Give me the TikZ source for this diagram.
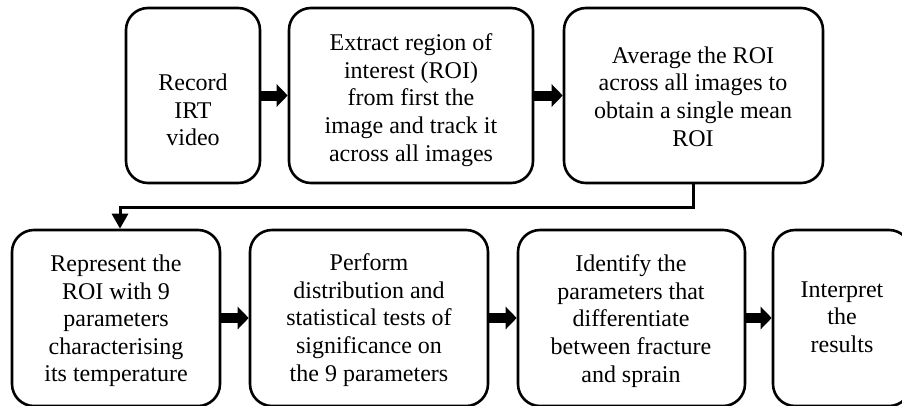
\documentclass[tikz,border=0pt]{standalone}
\usepackage{fontspec}
\setmainfont{Liberation Serif}
\usetikzlibrary{arrows.meta}

\tikzset{
  stepbox/.style={draw, line width=2.6pt, rounded corners=22pt, inner sep=0pt},
  steptext/.style={align=center, inner sep=0pt, font=\fontsize{24}{27.6}\selectfont},
  blockarrow/.style={line width=10pt, -{Triangle[length=11pt, width=22pt]}},
  flowline/.style={line width=3pt, -{Triangle[length=15pt, width=16pt]}},
}

\begin{document}
\begin{tikzpicture}[x=1pt, y=-1pt]
  \path[use as bounding box] (0,0) rectangle (902,405);
  \clip (0,0) rectangle (902,405);

  % top row
  \node[stepbox, minimum width=134pt, minimum height=175pt] (b1) at (193,95.5) {};
  \node[stepbox, minimum width=244pt, minimum height=175pt] (b2) at (411,95.5) {};
  \node[stepbox, minimum width=259pt, minimum height=175pt] (b3) at (693.5,95.5) {};

  % bottom row
  \node[stepbox, minimum width=208pt, minimum height=176pt] (b4) at (116,318) {};
  \node[stepbox, minimum width=238pt, minimum height=176pt] (b5) at (369,318) {};
  \node[stepbox, minimum width=227pt, minimum height=176pt] (b6) at (631.5,318) {};
  \node[stepbox, minimum width=138pt, minimum height=176pt] (b7) at (842,318) {};

  % step texts
  \node[steptext] (t1) at (193,110) {Record\\IRT\\video};
  \node[steptext] (t2) at (411,100) {Extract region of\\interest (ROI)\\from first the\\image and track it\\across all images};
  \node[steptext] (t3) at (693,96.5) {Average the ROI\\across all images to\\obtain a single mean\\ROI};
  \node[steptext] (t4) at (116,321) {Represent the\\ROI with 9\\parameters\\characterising\\its temperature};
  \node[steptext] (t5) at (369,320) {Perform\\distribution and\\statistical tests of\\significance on\\the 9 parameters};
  \node[steptext] (t6) at (631,321) {Identify the\\parameters that\\differentiate\\between fracture\\and sprain};
  \node[steptext] (t7) at (842,317) {Interpret\\the\\results};

  % block arrows between steps
  \draw[blockarrow] (b1.east) -- (b2.west);
  \draw[blockarrow] (b2.east) -- (b3.west);
  \draw[blockarrow] (b4.east) -- (b5.west);
  \draw[blockarrow] (b5.east) -- (b6.west);
  \draw[blockarrow] (b6.east) -- (b7.west);

  % connector from the top row down to the bottom row
  \coordinate (drop) at (120,207);
  \draw[flowline] (b3.south) |- (drop) -- (drop |- b4.north);
\end{tikzpicture}
\end{document}
